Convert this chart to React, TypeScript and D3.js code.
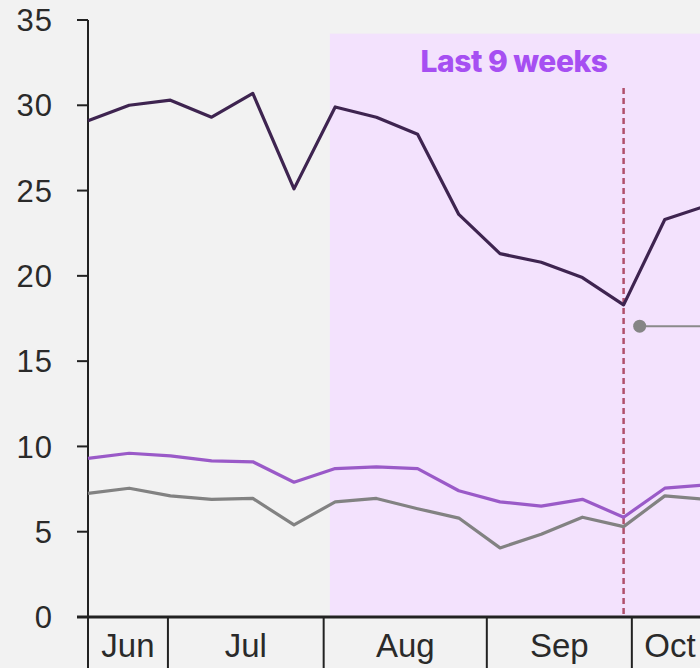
import React, { useEffect, useRef } from 'react';
import * as d3 from 'd3';

// weekly points, index 0 = first week of June
const weeks = d3.range(16);
const seriesTop = [29.1, 30.0, 30.3, 29.3, 30.7, 25.1, 29.9, 29.3, 28.3, 23.6, 21.3, 20.8, 19.9, 18.3, 23.3, 24.1];
const seriesMid = [9.3, 9.6, 9.45, 9.15, 9.1, 7.9, 8.7, 8.8, 8.7, 7.4, 6.75, 6.5, 6.9, 5.85, 7.55, 7.75];
const seriesLow = [7.25, 7.55, 7.1, 6.9, 6.95, 5.4, 6.75, 6.95, 6.35, 5.8, 4.05, 4.85, 5.85, 5.3, 7.1, 6.9];

const months = ['Jun', 'Jul', 'Aug', 'Sep', 'Oct'];
const monthEdges = [0, 1.94, 5.72, 9.68, 13.2, 15.05];
const yTicks = [0, 5, 10, 15, 20, 25, 30, 35];

const highlightStart = 5.87;
const markerWeek = 13;
const note = { week: 13.39, value: 17.05 };

const App = () => {
  const ref = useRef<SVGSVGElement>(null);

  useEffect(() => {
    const width = 700;
    const height = 668;
    const svg = d3.select(ref.current);
    svg.selectAll('*').remove();

    const x = d3.scaleLinear().domain([0, 15]).range([88, 706]);
    const y = d3.scaleLinear().domain([0, 35]).range([617, 20]);

    svg.append('rect').attr('width', width).attr('height', height).attr('fill', '#f2f2f2');

    // shaded "last 9 weeks" band
    svg.append('rect')
      .attr('x', x(highlightStart))
      .attr('y', y(34.2))
      .attr('width', width - x(highlightStart))
      .attr('height', y(0) - y(34.2))
      .attr('fill', '#f3e2fd');

    svg.append('text')
      .attr('x', 514)
      .attr('y', 72)
      .attr('text-anchor', 'middle')
      .attr('font-family', 'Inter, sans-serif')
      .attr('font-weight', 800)
      .attr('font-size', 30)
      .attr('letter-spacing', -0.5)
      .attr('fill', '#a64ff2')
      .text('Last 9 weeks');

    // y axis
    const yAxis = svg.append('g');
    yAxis.append('line')
      .attr('x1', x(0)).attr('x2', x(0))
      .attr('y1', y(35)).attr('y2', height)
      .attr('stroke', '#222').attr('stroke-width', 2);
    yTicks.forEach(t => {
      yAxis.append('line')
        .attr('x1', x(0) - 11).attr('x2', x(0))
        .attr('y1', y(t)).attr('y2', y(t))
        .attr('stroke', '#222').attr('stroke-width', 2);
      yAxis.append('text')
        .attr('x', 53)
        .attr('y', y(t))
        .attr('dy', '0.36em')
        .attr('text-anchor', 'end')
        .attr('font-family', 'Liberation Sans, Arial, sans-serif')
        .attr('font-size', 31)
        .attr('letter-spacing', 1)
        .attr('fill', '#2a2a2a')
        .text(t);
    });

    // dashed marker
    svg.append('line')
      .attr('x1', x(markerWeek)).attr('x2', x(markerWeek))
      .attr('y1', 88).attr('y2', y(0))
      .attr('stroke', '#b0506c').attr('stroke-width', 2.5)
      .attr('stroke-dasharray', '6,4');

    const line = d3.line<number>().x((_, i) => x(weeks[i])).y(d => y(d));
    const draw = (data: number[], color: string) => {
      svg.append('path')
        .datum(data)
        .attr('d', line)
        .attr('fill', 'none')
        .attr('stroke', color)
        .attr('stroke-width', 3.2)
        .attr('stroke-linejoin', 'round');
    };
    draw(seriesLow, '#828282');
    draw(seriesMid, '#9a5ac8');
    draw(seriesTop, '#3e2450');

    // annotation leader
    svg.append('line')
      .attr('x1', x(note.week)).attr('x2', width)
      .attr('y1', y(note.value)).attr('y2', y(note.value))
      .attr('stroke', '#8a8a8a').attr('stroke-width', 2);
    svg.append('circle')
      .attr('cx', x(note.week)).attr('cy', y(note.value))
      .attr('r', 6.5).attr('fill', '#858585');

    // x axis with month bands
    svg.append('line')
      .attr('x1', x(0) - 11).attr('x2', width)
      .attr('y1', y(0)).attr('y2', y(0))
      .attr('stroke', '#222').attr('stroke-width', 3);
    months.forEach((m, i) => {
      const x0 = x(monthEdges[i]);
      const x1 = x(monthEdges[i + 1]);
      if (i > 0) {
        svg.append('line')
          .attr('x1', x0).attr('x2', x0)
          .attr('y1', y(0)).attr('y2', height)
          .attr('stroke', '#222').attr('stroke-width', 2);
      }
      svg.append('text')
        .attr('x', (x0 + x1) / 2)
        .attr('y', 657)
        .attr('text-anchor', 'middle')
        .attr('font-family', 'Liberation Sans, Arial, sans-serif')
        .attr('font-size', 33)
        .attr('fill', '#2a2a2a')
        .text(m);
    });
  }, []);

  return (
    <svg
      ref={ref}
      width={700}
      height={668}
      style={{ position: 'absolute', left: 0, top: 0, display: 'block' }}
    />
  );
};

export default App;
